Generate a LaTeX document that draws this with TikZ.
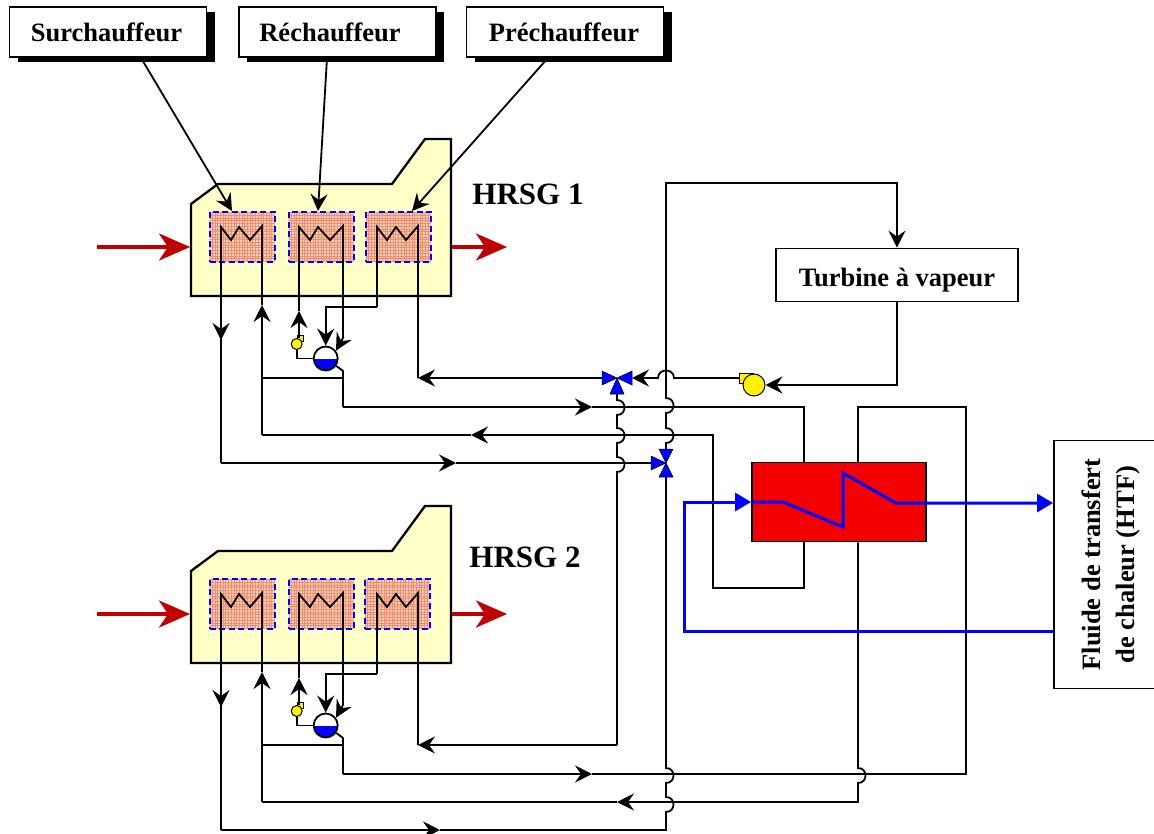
\documentclass[tikz,border=0pt]{standalone}
\usepackage{fontspec}
\setmainfont{Liberation Serif}
\usetikzlibrary{arrows.meta,shadows}
\definecolor{creme}{HTML}{FFFFC8}
\definecolor{saumon}{HTML}{FFD4BC}
\definecolor{trame}{HTML}{F48C70}
\definecolor{rougegaz}{HTML}{C00000}
\definecolor{rougeech}{HTML}{F40000}
\newcommand{\sautB}{.. controls +(10,0) and +(10,0) .. ++(0,15)}
\newcommand{\sautH}{.. controls +(10,0) and +(10,0) .. ++(0,-15)}
\newcommand{\sautG}{.. controls +(0,-10) and +(0,-10) .. ++(-16,0)}
\tikzset{
  ligne/.style={line width=1.8pt,line join=miter},
  fleche/.style={ligne,-{Stealth[length=17pt,width=17pt,inset=6pt]}},
  gaz/.style={line width=3.8pt,rougegaz,-{Stealth[length=31pt,width=27pt,inset=9pt]}},
  htfligne/.style={line width=3pt,blue,-{Triangle[length=16pt,width=18pt]}},
  chaudiere/.style={draw,line width=2.3pt,fill=creme},
  echangeur/.style={draw=blue,line width=2pt,dash pattern=on 6pt off 3.5pt,fill=saumon,minimum width=65pt,minimum height=50pt,inner sep=0pt,
    path picture={\draw[trame,line width=0.7pt,solid,step=2.7pt] (path picture bounding box.south west) grid (path picture bounding box.north east);}},
  vanne/.style={draw=black,line width=0.5pt,fill=blue},
  titre/.style={draw,line width=1.8pt,fill=white,font=\fontsize{26.5}{34}\selectfont\bfseries,inner sep=0pt,minimum width=197pt,minimum height=50pt,drop shadow={shadow xshift=8pt,shadow yshift=-5pt,opacity=1,fill=black}},
  boite/.style={draw,line width=1.8pt,fill=white,font=\fontsize{26.5}{34}\selectfont\bfseries,inner sep=0pt},
  etiquette/.style={font=\fontsize{31}{36}\selectfont\bfseries,inner sep=0pt},
  petitepompe/.style={circle,draw,line width=1pt,fill=yellow,minimum size=11pt,inner sep=0pt},
}
\begin{document}
\begin{tikzpicture}[x=1pt,y=-1pt]
  \clip[use as bounding box] (0,0) rectangle (1154,834);
  % boites du haut
  \node[titre] (surch) at (108,32) {Surchauffeur\kern3pt};
  \node[titre] (rech) at (337.5,32) {Réchauffeur\kern15pt};
  \node[titre] (prech) at (565,32) {Préchauffeur\kern2pt};
  % les deux chaudieres
  \foreach \n/\dy/\px in {1/0/398.5,2/367/397.5} {
    \begin{scope}[shift={(0,\dy)}]
      \filldraw[chaudiere] (191,296) -- (191,204) -- (218,184) -- (392,184) -- (425,139) -- (451,139) -- (451,296) -- cycle;
      \node[echangeur] (S\n) at (242,237) {};
      \node[echangeur] (R\n) at (321,237) {};
      \node[echangeur] (P\n) at (\px,237) {};
      \coordinate (gazA\n) at (97,247);
      \coordinate (gazB\n) at (190,247);
      \coordinate (gazC\n) at (452,247);
      \coordinate (gazD\n) at (507,247);
      \coordinate (coinA\n) at (221,463);
      \coordinate (coinB\n) at (262,435);
      \coordinate (coinC\n) at (343,407);
      \coordinate (coinD\n) at (418,378);
      \draw[gaz] (gazA\n) -- (gazB\n);
      \draw[gaz] (gazC\n) -- (gazD\n);
      \draw[ligne] (221,340) -- (221,227) -- (231,240) -- (239,227) -- (250,240) -- (262,226) -- (262,305);
      \draw[ligne] (299,311) -- (299,227) -- (310,240) -- (318,227) -- (330,240) -- (343,226) -- (343,338);
      \draw[ligne] (377,307) -- (377,227) -- (387,240) -- (396,227) -- (406,240) -- (418,226) -- (coinD\n);
      \draw[ligne] (221,340) -- (coinA\n);
      \node[circle,draw,line width=1.8pt,fill=white,minimum size=24pt,inner sep=0pt,
        path picture={\fill[blue] (path picture bounding box.west) rectangle (path picture bounding box.south east);}] (ballon\n) at (325.7,358.5) {};
      \draw[fill=yellow,line width=0.7pt] (297,335) rectangle (303,341);
      \node[petitepompe] (pompe\n) at (296.7,344) {};
      \draw[fleche] (221,320) -- (221,340);
      \draw[fleche] (coinB\n) -- (262,305);
      \draw[fleche] (299,338) -- (299,311);
      \draw[fleche] (377,307) -| (ballon\n.north);
      \draw[fleche] (343,338) -- (ballon\n.37);
      \draw[ligne] (pompe\n.south) |- (ballon\n.west);
      \draw[ligne] (ballon\n.-35) -- (343,371) -- (coinC\n);
      \draw[ligne] (262,378) -- (343,378);
    \end{scope}
  }
  \node[etiquette] (hrsgA) at (528,194) {HRSG 1};
  \node[etiquette] (hrsgB) at (525,557) {HRSG 2};
  % turbine, pompe et rechauffeur
  \node[boite,minimum width=242pt,minimum height=53pt,text height=24pt,text depth=0pt] (turbine) at (897,275) {Turbine à vapeur};
  \draw[fill=yellow,line width=1pt] (739,373.5) rectangle (753,383);
  \node[circle,draw,line width=1pt,fill=yellow,minimum size=22pt,inner sep=0pt] (pompeT) at (754,385) {};
  \node[draw,line width=1.8pt,fill=rougeech,minimum width=174pt,minimum height=79pt,inner sep=0pt] (heater) at (839,502) {};
  \node[boite,rotate=90,align=center,minimum width=248pt,minimum height=114pt] (htf) at (1111,564.5) {Fluide de transfert\\de chaleur (HTF)};
  % vannes
  \coordinate (vanneA) at (617,378);
  \coordinate (vanneAg) at (602,378);
  \coordinate (vanneAd) at (632,378);
  \coordinate (vanneAb) at (617,394);
  \coordinate (vanneB) at (666,463);
  \coordinate (vanneBh) at (666,449);
  \coordinate (vanneBb) at (666,477);
  \coordinate (vanneBg) at (651,463);
  % fleches du haut
  \draw[fleche] ([xshift=33pt]surch.south) -- ([xshift=-10pt]S1.north);
  \draw[fleche] ([xshift=-10.5pt]rech.south) -- ([xshift=-3pt]R1.north);
  \draw[fleche] ([xshift=-17pt]prech.south) -- ([xshift=13.5pt]P1.north);
  % conduites
  \draw[fleche] (coinA1) -- (456,463);
  \draw[ligne] (456,463) -- (vanneBg);
  \draw[fleche] (vanneAg) -- (coinD1);
  \draw[fleche] (coinC1) -- (592,407);
  \draw[ligne] (592,407) -| ([xshift=-35pt]heater.north);
  \draw[fleche] ([xshift=-35pt]heater.south) |- (713,588) |- (471,435);
  \draw[ligne] (471,435) -- (coinB1);
  \draw[ligne] (vanneAb) -- (617,400) \sautB -- (617,428) \sautB -- (617,457) \sautB -- (617,745);
  \draw[fleche] (617,745) -- (coinD2);
  \draw[fleche] (vanneBh) -- (666,443) \sautH -- (666,413) \sautH -- (666,183) -| (turbine.north);
  \draw[fleche] (turbine.south) |- (pompeT.east);
  \draw[fleche] (739,378) -- (674,378) \sautG -- (vanneAd);
  \draw[fleche] (coinC2) -- (592,774);
  \draw[ligne] (592,774) -| (966,407) -| ([xshift=19pt]heater.north);
  \draw[fleche] ([xshift=19pt]heater.south) -- (858,768) \sautB -- (858,802) -- (617,802);
  \draw[ligne] (617,802) -- (coinB2);
  \draw[ligne] (vanneBb) -- (666,768) \sautB -- (666,797) \sautB -- (666,830) -- (440,830);
  \draw[fleche] (coinA2) -- (440,830);
  % circuit du fluide
  \draw[htfligne] ([yshift=-66.5pt]htf.north) -- (684,631) |- (heater.west);
  \draw[htfligne] (heater.west) -- (783,502) -- (843,527) -- (843,473) -- (896,503) -- ([yshift=61.5pt]htf.north);
  % triangles des vannes
  \filldraw[vanne] (vanneA) -- ++(-15,-7) -- ++(0,14) -- cycle;
  \filldraw[vanne] (vanneA) -- ++(15,-7) -- ++(0,14) -- cycle;
  \filldraw[vanne] (vanneA) -- ++(-7,16) -- ++(14,0) -- cycle;
  \filldraw[vanne] (vanneB) -- ++(-7,-14) -- ++(14,0) -- cycle;
  \filldraw[vanne] (vanneB) -- ++(-7,14) -- ++(14,0) -- cycle;
  \filldraw[vanne] (vanneB) -- ++(-15,-7) -- ++(0,14) -- cycle;
\end{tikzpicture}
\end{document}
